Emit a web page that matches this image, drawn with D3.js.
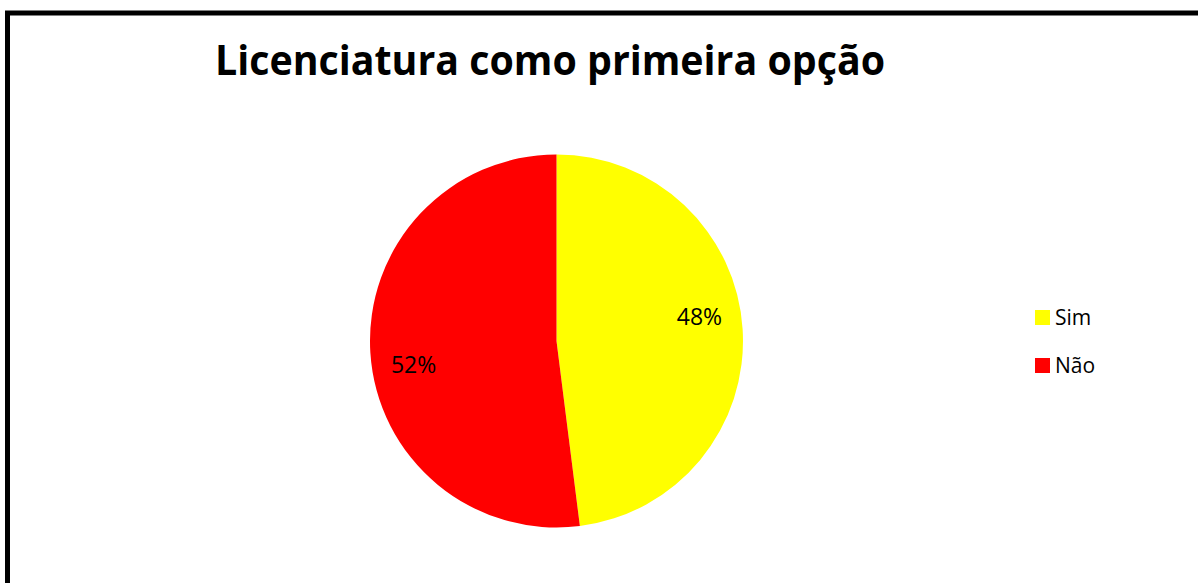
<!DOCTYPE html>
<head>
  <meta charset="utf-8">
  <style>
    body { margin: 0; background: #fff; }
    svg { display: block; font-family: 'Open Sans', sans-serif; }
  </style>
  <script src="https://cdn.jsdelivr.net/npm/d3@7"></script>
</head>
<body>
<svg id=chart width="1198" height="583"></svg>
<script>
  // data
  const categories = ['Sim', 'Não']
  const values = [48, 52]
  const colors = ['#ffff00', '#ff0000']
  const title = 'Licenciatura como primeira opção'

  const svg = d3.select('#chart')
  const width = +svg.attr('width')
  const height = +svg.attr('height')

  // frame, runs past the right and bottom edges like the source picture
  svg.append('rect')
    .attr('x', 7.5).attr('y', 13)
    .attr('width', width + 20).attr('height', height + 20)
    .attr('fill', '#fff')
    .attr('stroke', '#000')
    .attr('stroke-width', 5)

  // title
  const t = svg.append('text')
    .attr('x', 215).attr('y', 75)
    .attr('font-size', 42)
    .attr('font-weight', 'bold')
    .attr('fill', '#000')
    .text(title)
  if (t.node().getComputedTextLength() > 670) {
    t.attr('textLength', 670).attr('lengthAdjust', 'spacingAndGlyphs')
  }

  // pie
  const cx = 556.5, cy = 341, r = 186.5
  const pie = d3.pie().sort(null).value(d => d)
  const arc = d3.arc().innerRadius(0).outerRadius(r)
  const arcs = pie(values)

  const g = svg.append('g').attr('transform', `translate(${cx},${cy})`)
  g.selectAll('path')
    .data(arcs)
    .join('path')
    .attr('d', arc)
    .attr('fill', (d, i) => colors[i])

  // labels, slightly turned back like excel's best fit
  const labelR = 145, turn = -6 * Math.PI / 180
  const total = d3.sum(values)
  g.selectAll('text.lbl')
    .data(arcs)
    .join('text')
    .attr('class', 'lbl')
    .attr('x', d => labelR * Math.sin((d.startAngle + d.endAngle) / 2 + turn))
    .attr('y', d => -labelR * Math.cos((d.startAngle + d.endAngle) / 2 + turn))
    .attr('dy', '0.35em')
    .attr('text-anchor', 'middle')
    .attr('font-size', 23)
    .attr('fill', '#000')
    .text(d => Math.round(d.value / total * 100) + '%')

  // legend
  const legend = svg.append('g').attr('transform', 'translate(1035,310)')
  const item = legend.selectAll('g')
    .data(categories)
    .join('g')
    .attr('transform', (d, i) => `translate(0,${i * 48})`)
  item.append('rect')
    .attr('width', 15).attr('height', 15)
    .attr('fill', (d, i) => colors[i])
  item.append('text')
    .attr('x', 20).attr('y', 15)
    .attr('font-size', 21)
    .attr('fill', '#000')
    .text(d => d)
</script>
</body>
